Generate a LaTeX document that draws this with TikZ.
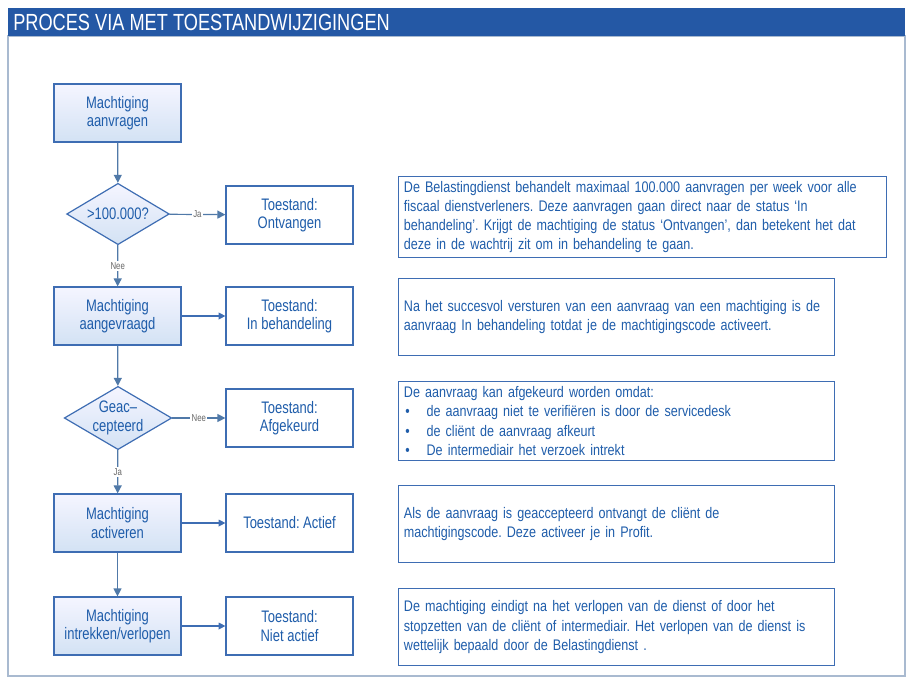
\documentclass[tikz,border=0pt]{standalone}
\usepackage{fontspec}
\setmainfont[FakeStretch=0.78]{Liberation Sans}
\newfontfamily\uitlegfont[FakeStretch=0.82]{Liberation Sans}
\usetikzlibrary{shapes.geometric,arrows.meta}
\definecolor{titelblauw}{HTML}{2458A5}
\definecolor{tekstblauw}{HTML}{1F5DAA}
\definecolor{randblauw}{HTML}{3E6DB3}
\definecolor{lijnblauw}{HTML}{5079A8}
\definecolor{kader}{HTML}{A9BAD0}
\definecolor{vulblauw}{HTML}{D3E2F4}
\newcommand{\opsom}{\makebox[17pt][l]{\hspace{1pt}\textbullet}}
\frenchspacing

\begin{document}
\begin{tikzpicture}[x=0.75pt, y=-0.75pt,
		stap/.style={draw=randblauw, line width=0.9pt, top color=blue!4, bottom color=vulblauw, minimum width=95.25pt, minimum height=43.5pt, text=tekstblauw, align=center, font=\fontsize{12.5}{13.8}\selectfont},
		toestand/.style={draw=randblauw, line width=0.9pt, fill=white, minimum width=95.25pt, minimum height=43.5pt, text=tekstblauw, align=center, font=\fontsize{12.5}{13.8}\selectfont},
		keuze/.style={diamond, draw=randblauw, line width=0.9pt, top color=blue!4, bottom color=vulblauw, minimum width=77pt, minimum height=46pt, aspect=1.7, inner sep=0pt, text=tekstblauw, align=center, font=\fontsize{12.5}{13.8}\selectfont},
		uitleg/.style={draw=randblauw, line width=0.9pt, anchor=north west, minimum height=57.75pt, inner xsep=4pt, align=left, text=tekstblauw, font=\uitlegfont\fontsize{11.5}{14.4}\selectfont},
		pijl/.style={draw=lijnblauw, line width=0.9pt, -{Triangle[length=6pt,width=6pt]}},
		doorpijl/.style={draw=randblauw, line width=0.9pt, -{Triangle[length=5pt,width=5pt]}},
		antw/.style={fill=white, inner sep=1pt, text=black!60, font=\fontsize{7.5}{8}\selectfont}]
	\useasboundingbox (0,0) rectangle (907,678);
	% kader en titel
	\draw[kader, line width=1.2pt] (8,36) rectangle (905,676);
	\fill[titelblauw] (8,8) rectangle (905,36);
	\node[anchor=west, text=white, inner sep=0pt, font=\fontsize{17.5}{18}\selectfont] (titel) at (13,22) {PROCES VIA MET TOESTANDWIJZIGINGEN};
	% stappen
	\node[stap] (aanvragen) at (117.5,113) {Machtiging\\aanvragen};
	\node[keuze] (limiet) at (118,214) {>100.000?};
	\node[toestand] (ontvangen) at (289.5,215) {Toestand:\\Ontvangen};
	\node[stap] (aangevraagd) at (117.5,316) {Machtiging\\aangevraagd};
	\node[toestand] (behandeling) at (289.5,316) {Toestand:\\In behandeling};
	\node[keuze] (geaccepteerd) at (118,418) {Geac–\\cepteerd};
	\node[toestand] (afgekeurd) at (289.5,418) {Toestand:\\Afgekeurd};
	\node[stap] (activeren) at (117.5,523) {Machtiging\\activeren};
	\node[toestand] (actief) at (289.5,523) {Toestand: Actief};
	\node[stap] (intrekken) at (117.5,626) {Machtiging\\intrekken/verlopen};
	\node[toestand] (nietactief) at (289.5,626) {Toestand:\\Niet actief};
	% uitleg
	\node[uitleg, text width=358pt] (uitlegA) at (398,176) {De Belastingdienst behandelt maximaal 100.000 aanvragen per week voor alle\\fiscaal dienstverleners. Deze aanvragen gaan direct naar de status ‘In\\behandeling’. Krijgt de machtiging de status ‘Ontvangen’, dan betekent het dat\\deze in de wachtrij zit om in behandeling te gaan.};
	\node[uitleg, text width=319pt] (uitlegB) at (398,278) {Na het succesvol versturen van een aanvraag van een machtiging is de\\aanvraag In behandeling totdat je de machtigingscode activeert.};
	\node[uitleg, text width=319pt, font=\uitlegfont\fontsize{11.5}{14.6}\selectfont] (uitlegC) at (398,381) {De aanvraag kan afgekeurd worden omdat:\\\opsom de aanvraag niet te verifiëren is door de servicedesk\\\opsom de cliënt de aanvraag afkeurt\\\opsom De intermediair het verzoek intrekt};
	\node[uitleg, text width=319pt] (uitlegD) at (398,485) {Als de aanvraag is geaccepteerd ontvangt de cliënt de\\machtigingscode. Deze activeer je in Profit.};
	\node[uitleg, text width=319pt] (uitlegE) at (398,588) {De machtiging eindigt na het verlopen van de dienst of door het\\stopzetten van de cliënt of intermediair. Het verlopen van de dienst is\\wettelijk bepaald door de Belastingdienst .};
	% verbindingen
	\draw[pijl] (aanvragen) -- (limiet);
	\draw[pijl] (limiet) -- node[antw] {Ja} (ontvangen);
	\draw[pijl] (limiet) -- node[antw] {Nee} (aangevraagd);
	\draw[doorpijl] (aangevraagd) -- (behandeling);
	\draw[pijl] (aangevraagd) -- (geaccepteerd);
	\draw[pijl] (geaccepteerd) -- node[antw] {Nee} (afgekeurd);
	\draw[pijl] (geaccepteerd) -- node[antw] {Ja} (activeren);
	\draw[doorpijl] (activeren) -- (actief);
	\draw[pijl] (activeren) -- (intrekken);
	\draw[doorpijl] (intrekken) -- (nietactief);
\end{tikzpicture}
\end{document}
